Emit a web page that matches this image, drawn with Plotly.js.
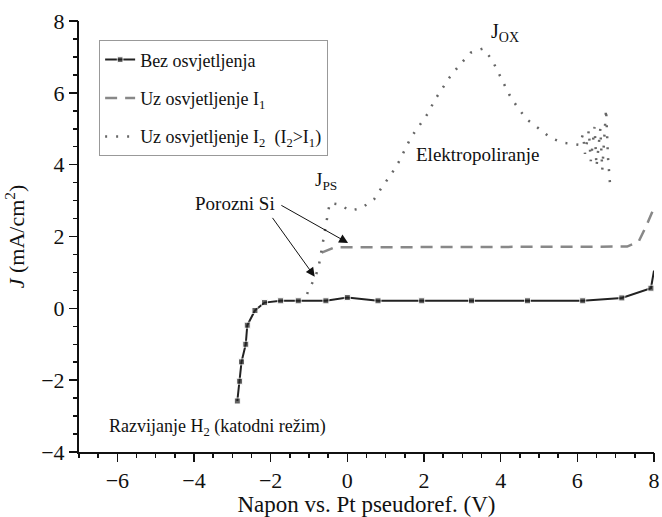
<!DOCTYPE html>
<html>
<head>
<meta charset="utf-8">
<script src="https://cdn.plot.ly/plotly-3.0.1.min.js"></script>
<style>html,body{margin:0;padding:0;background:#fff;}
#chart{width:662px;height:517px;}</style>
</head>
<body>
<div id="chart"></div>
<script>
// Bez osvjetljenja (dark)
const darkX = [-2.87,-2.81,-2.76,-2.65,-2.61,-2.41,-2.16,-1.74,-1.28,-0.56,0.0,0.8,1.94,3.24,4.7,6.14,7.16,7.92,8.0];
const darkY = [-2.58,-2.03,-1.49,-1.0,-0.47,-0.06,0.16,0.21,0.21,0.21,0.30,0.21,0.21,0.21,0.21,0.21,0.29,0.56,1.05];
// Uz osvjetljenje I1
const i1X = [-0.67,-0.33,0.5,7.3,7.6,7.8,8.0];
const i1Y = [1.55,1.70,1.70,1.72,1.86,2.3,2.8];
// Uz osvjetljenje I2
const i2X = [-1.05,-1.0,-0.83,-0.74,-0.63,-0.52,-0.46,-0.21,0.07,0.37,0.70,0.92,1.15,1.35,1.66,1.88,2.11,2.28,2.46,2.68,2.94,3.22,3.53,3.76,3.91,4.07,4.22,4.43,4.68,5.03,5.30,5.62,5.94,6.05,6.15,6.2,6.3,6.35,6.45,6.5,6.6,6.65,6.75,6.8,6.85];
const i2Y = [0.4,0.53,0.88,1.21,1.88,2.56,2.93,2.89,2.72,2.79,3.04,3.40,3.74,4.09,4.76,5.09,5.44,5.80,6.11,6.45,6.79,7.12,7.23,6.95,6.63,6.28,5.96,5.61,5.26,4.98,4.75,4.61,4.56,4.55,4.85,4.3,4.95,4.1,5.05,3.95,5.0,3.85,5.55,4.2,3.5];

const seriesNames = ['Bez osvjetljenja','Uz osvjetljenje I<sub>1</sub>','Uz osvjetljenje I<sub>2</sub>  (I<sub>2</sub>&gt;I<sub>1</sub>)'];
const xTickVals = [-6,-4,-2,0,2,4,6,8];
const yTickVals = [-4,-2,0,2,4,6,8];

const markerSizes = darkX.map((v,i)=> i===darkX.length-1 ? 0 : 6);

const traces = [
  {x: darkX, y: darkY, name: seriesNames[0], legendgroup:'a', mode:'lines+markers',
   line:{color:'#222', width:2}, marker:{symbol:'square', size:markerSizes, color:'#222'}},
  {x: i1X, y: i1Y, name: seriesNames[1], legendgroup:'b', mode:'lines',
   line:{color:'#888', width:2.5, dash:'12px,8px'}},
  {x: i2X, y: i2Y, name: seriesNames[2], legendgroup:'c', mode:'lines',
   line:{color:'#666', width:2.5, dash:'2px,9px'}},
  {x: [-7], y: [-4], xaxis:'x2', yaxis:'y2', mode:'markers', marker:{opacity:0}, showlegend:false, hoverinfo:'skip'}
];

const FAM = 'Times New Roman';
const layout = {
  width:662, height:517,
  margin:{l:79, r:8, t:21, b:65},
  paper_bgcolor:'#fff', plot_bgcolor:'#fff',
  font:{family:FAM, color:'#111'},
  showlegend:true,
  legend:{x:0.035, y:0.955, xanchor:'left', yanchor:'top', bordercolor:'#999', borderwidth:1,
    font:{family:FAM, size:18, color:'#111'}, tracegroupgap:12, bgcolor:'#fff'},
  xaxis:{range:[-7,8], tickvals:xTickVals, showgrid:false, zeroline:false, showline:true, linecolor:'#111', linewidth:2,
    ticks:'outside', ticklen:8, tickwidth:1.5, tickcolor:'#111', tickfont:{family:FAM,size:22,color:'#111'},
    title:{text:'Napon vs. Pt pseudoref. (V)', font:{family:FAM,size:23,color:'#111'}, standoff:8}},
  yaxis:{range:[-4,8], tickvals:yTickVals, showgrid:false, zeroline:false, showline:true, linecolor:'#111', linewidth:2,
    ticks:'outside', ticklen:8, tickwidth:1.5, tickcolor:'#111', tickfont:{family:FAM,size:22,color:'#111'},
    title:{text:'<i>J</i> (mA/cm<sup>2</sup>)', font:{family:FAM,size:22,color:'#111'}, standoff:10}},
  xaxis2:{overlaying:'x', range:[-7,8], dtick:0.5, tick0:0, side:'bottom', showgrid:false, zeroline:false, showline:false,
    ticks:'outside', ticklen:5, tickwidth:1.5, tickcolor:'#111', showticklabels:false},
  yaxis2:{overlaying:'y', range:[-4,8], dtick:0.5, tick0:0, side:'left', showgrid:false, zeroline:false, showline:false,
    ticks:'outside', ticklen:5, tickwidth:1.5, tickcolor:'#111', showticklabels:false},
  annotations:[
    {x:4.11, y:7.69, text:'J<sub>OX</sub>', showarrow:false, font:{family:FAM,size:20,color:'#111'}},
    {x:3.39, y:4.28, text:'Elektropoliranje', showarrow:false, font:{family:FAM,size:19,color:'#111'}},
    {x:-0.56, y:3.54, text:'J<sub>PS</sub>', showarrow:false, font:{family:FAM,size:19,color:'#111'}},
    {x:-2.94, y:2.93, text:'Porozni Si', showarrow:false, font:{family:FAM,size:19,color:'#111'}},
    {x:-3.38, y:-3.31, text:'Razvijanje H<sub>2</sub> (katodni režim)', showarrow:false, font:{family:FAM,size:18,color:'#111'}},
    {x:0.02, y:1.82, ax:-1.76, ay:2.89, axref:'x', ayref:'y', xref:'x', yref:'y', text:'', showarrow:true,
     arrowhead:2, arrowsize:1.8, arrowwidth:1, arrowcolor:'#111'},
    {x:-0.85, y:0.88, ax:-1.98, ay:2.56, axref:'x', ayref:'y', xref:'x', yref:'y', text:'', showarrow:true,
     arrowhead:2, arrowsize:1.8, arrowwidth:1, arrowcolor:'#111'}
  ]
};
Plotly.newPlot('chart', traces, layout, {displayModeBar:false, staticPlot:true});
</script>
</body>
</html>
